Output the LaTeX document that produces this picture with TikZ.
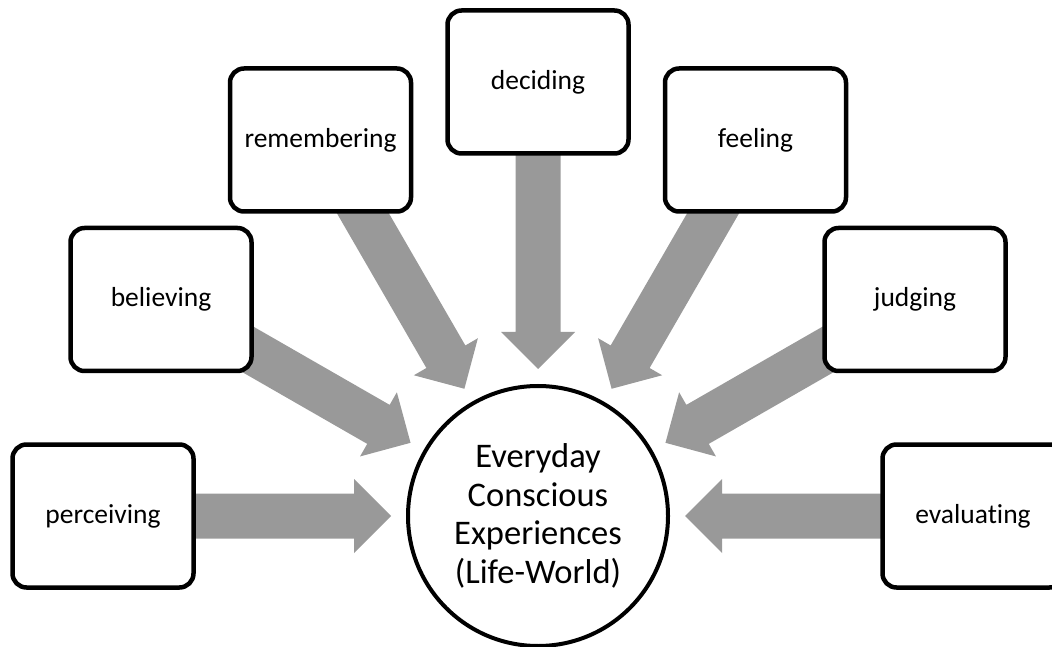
\documentclass[tikz,border=0pt]{standalone}
\usepackage{fontspec}
\setmainfont[Ligatures={NoCommon}]{Carlito}
\usetikzlibrary{calc}
\pgfdeclarelayer{bg}
\pgfsetlayers{bg,main}
\definecolor{arrowgray}{HTML}{999999}
\tikzset{
  box/.style={draw=black, line width=4.5pt, fill=white, rounded corners=14pt,
    minimum width=181pt, minimum height=143pt, inner sep=0pt,
    font=\fontsize{27.5pt}{33pt}\selectfont},
  hub/.style={draw=black, line width=4pt, fill=white, circle, minimum size=260pt,
    inner sep=0pt, align=center, font=\fontsize{34.5pt}{38.5pt}\selectfont},
  blockfill/.style={fill=arrowgray, draw=none}
}
\newcommand\blockarr[2]{%
  \path ($(#2)!147pt!(#1)$) coordinate (T)
        ($(T)!37pt!(#1)$) coordinate (H);
  \fill[blockfill]
    ($(#1)!22.5pt!-90:(H)$) -- ($(H)!22.5pt!90:(#1)$) -- ($(H)!37pt!90:(#1)$)
    -- (T) -- ($(H)!37pt!-90:(#1)$) -- ($(H)!22.5pt!-90:(#1)$)
    -- ($(#1)!22.5pt!90:(H)$) -- cycle;
}
\begin{document}
\begin{tikzpicture}[x=1pt,y=1pt]
\useasboundingbox (0,0) rectangle (1052,646);
\node[hub] (c) at (538,130) {Everyday\\Conscious\\Experiences\\(Life-World)};
\node[box] (perc) at (103,130) {perceiving};
\node[box] (beli) at (161,346.5) {believing};
\node[box] (reme) at (320.5,506) {remembering};
\node[box] (deci) at (538,564) {deciding};
\node[box] (feel) at (755.5,506) {feeling};
\node[box] (judg) at (915,346.5) {judging};
\node[box] (eval) at (973,130) {evaluating};
\begin{pgfonlayer}{bg}
\foreach \b in {perc,beli,reme,deci,feel,judg,eval}{\blockarr{\b}{c}}
\end{pgfonlayer}
\end{tikzpicture}
\end{document}
